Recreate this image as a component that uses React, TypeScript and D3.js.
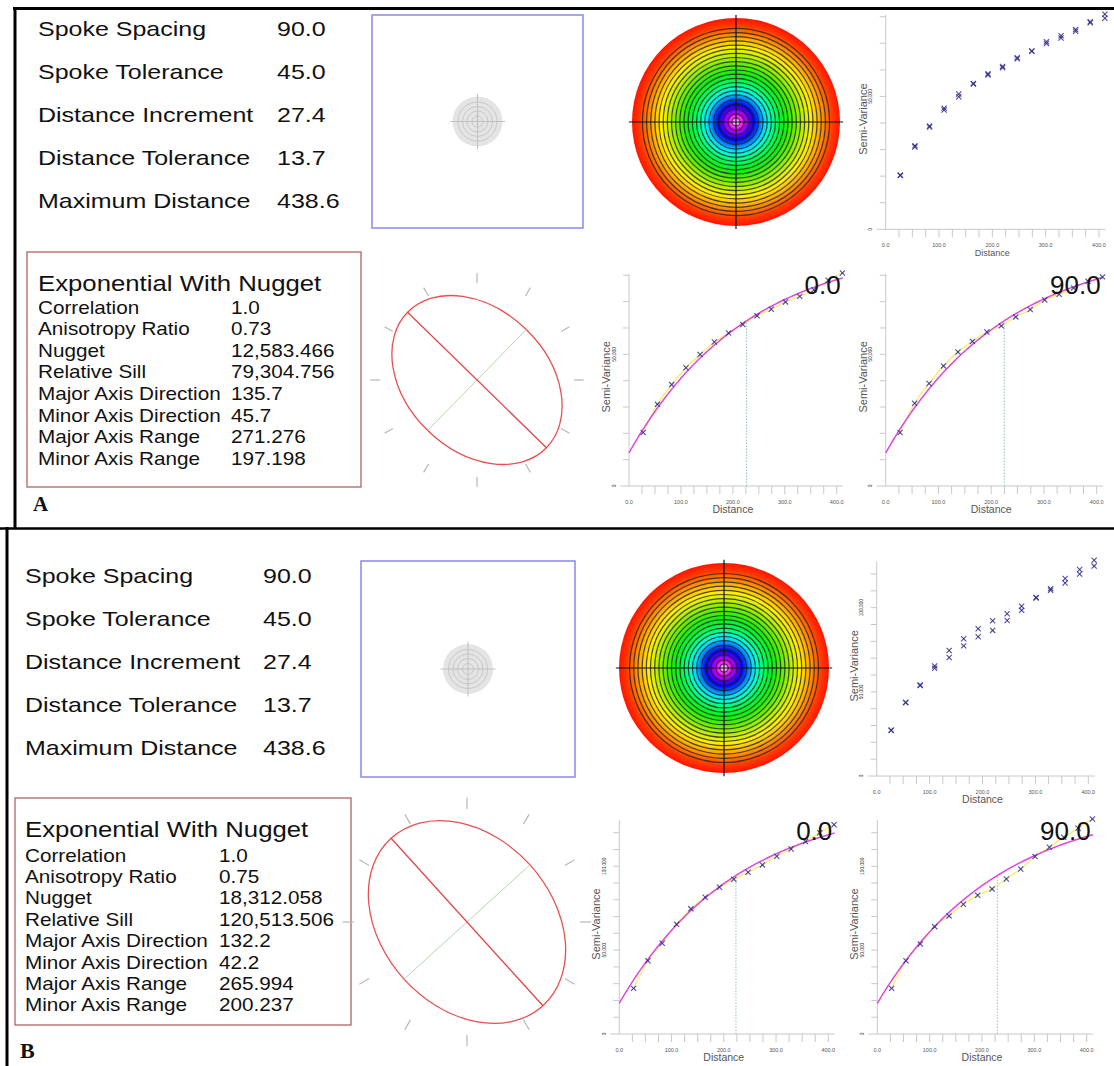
import React from "react";
import * as d3 from "d3";

const FONT = "'Liberation Sans', Arial, Helvetica, sans-serif";
const SERIF = "'Liberation Serif', 'Times New Roman', serif";

// ---------- text data ----------
const headerLabels = ["Spoke Spacing", "Spoke Tolerance", "Distance Increment", "Distance Tolerance", "Maximum Distance"];
const headerValuesA = ["90.0", "45.0", "27.4", "13.7", "438.6"];
const headerValuesB = ["90.0", "45.0", "27.4", "13.7", "438.6"];
const modelTitle = "Exponential With Nugget";
const modelLabels = ["Correlation", "Anisotropy Ratio", "Nugget", "Relative Sill", "Major Axis Direction", "Minor Axis Direction", "Major Axis Range", "Minor Axis Range"];
const modelValuesA = ["1.0", "0.73", "12,583.466", "79,304.756", "135.7", "45.7", "271.276", "197.198"];
const modelValuesB = ["1.0", "0.75", "18,312.058", "120,513.506", "132.2", "42.2", "265.994", "200.237"];

// ---------- variogram data ----------
const lagDistances = [27.4, 54.8, 82.2, 109.6, 137.0, 164.4, 191.8, 219.2, 246.6, 274.0, 301.4, 328.8, 356.2, 383.6, 411.0];
const semiVarA0 = [20300, 31000, 38500, 44900, 49900, 54700, 58100, 61300, 64600, 67100, 69900, 72000, 74500, 78100, 80900];
const semiVarA90 = [20300, 31400, 38900, 45600, 50900, 54900, 58500, 60800, 64200, 67000, 70600, 72800, 75200, 77700, 79400];
const semiVarB0 = [27200, 43700, 54100, 65400, 74600, 81500, 87500, 92200, 96400, 100800, 106000, 110300, 114700, 120000, 124700];
const semiVarB90 = [27200, 43700, 53700, 64000, 70400, 77300, 82700, 86500, 92400, 98400, 105800, 111300, 117300, 122700, 128200];

const modelA = { nugget: 12583.466, sill: 79304.756, majorRange: 271.276, minorRange: 197.198, majorDir: 135.7 };
const modelB = { nugget: 18312.058, sill: 120513.506, majorRange: 265.994, minorRange: 200.237, majorDir: 132.2 };

const xTickLabelValues = [0, 100, 200, 300, 400];
const yTickLabelValuesA = [0, 50000];
const yTickLabelValuesB = [0, 50000, 100000];
const directionTitles = ["0.0", "90.0"];
const directionAngles = [0, 90];

// contour surface colours (fraction of radius -> colour) and contour ring positions
const contourColorStops: [number, string][] = [
  [0, "#fff0ff"], [0.035, "#ff70ff"], [0.07, "#e600f0"], [0.12, "#7000ff"], [0.17, "#0000f0"],
  [0.22, "#0060ff"], [0.27, "#00d8ff"], [0.32, "#00ffc8"], [0.38, "#00ff60"], [0.47, "#10ee10"],
  [0.57, "#70ee00"], [0.65, "#c8f000"], [0.72, "#ffee00"], [0.79, "#ffb800"], [0.86, "#ff7800"],
  [0.93, "#ff3800"], [1, "#ff1400"],
];
const contourRings = [0.04, 0.08, 0.125, 0.17, 0.215, 0.26, 0.3, 0.34, 0.38, 0.42, 0.46, 0.5, 0.54, 0.58, 0.62, 0.66, 0.7, 0.74, 0.78, 0.82, 0.86, 0.9];
const grayRings = [0.22, 0.42, 0.6, 0.78];
const ellipseTickAngles = [0, 30, 60, 90, 120, 150, 180, 210, 240, 270, 300, 330];

type Model = typeof modelA;

function directionalRange(m: Model, dir: number) {
  const t = ((m.majorDir - dir) * Math.PI) / 180;
  return 1 / Math.sqrt((Math.cos(t) / m.majorRange) ** 2 + (Math.sin(t) / m.minorRange) ** 2);
}
function gamma(m: Model, dir: number, h: number) {
  const r = directionalRange(m, dir);
  return m.nugget + m.sill * (1 - Math.exp(-h / r));
}

const SText = ({ x, y, sx = 1, size, weight = "normal", family = FONT, fill = "#111", anchor = "start", children }: any) => (
  <text transform={`translate(${x},${y}) scale(${sx},1)`} fontSize={size} fontFamily={family} fontWeight={weight} fill={fill} textAnchor={anchor}>
    {children}
  </text>
);

function HeaderTable({ x, valX, y0, step, values }: any) {
  return (
    <g>
      {headerLabels.map((l, i) => (
        <g key={l}>
          <SText x={x} y={y0 + i * step} sx={1.19} size={21}>{l}</SText>
          <SText x={valX} y={y0 + i * step} sx={1.19} size={21}>{values[i]}</SText>
        </g>
      ))}
    </g>
  );
}

function ModelBox({ bx, by, bw, bh, tx, titleY, rowY0, rowStep, valX, values }: any) {
  return (
    <g>
      <rect x={bx} y={by} width={bw} height={bh} fill="none" stroke="#b06464" strokeWidth={1.3} />
      <SText x={tx} y={titleY} sx={1.17} size={22}>{modelTitle}</SText>
      {modelLabels.map((l, i) => (
        <g key={l}>
          <SText x={tx} y={rowY0 + i * rowStep} sx={1.15} size={18}>{l}</SText>
          <SText x={valX} y={rowY0 + i * rowStep} sx={1.15} size={18}>{values[i]}</SText>
        </g>
      ))}
    </g>
  );
}

function GraySquare({ x, y, w, h, r }: any) {
  const cx = x + w / 2;
  const cy = y + h / 2;
  return (
    <g>
      <rect x={x} y={y} width={w} height={h} fill="#fff" stroke="#8888ee" strokeWidth={1.5} />
      <circle cx={cx} cy={cy} r={r} fill="#e4e4e4" />
      {grayRings.map((f) => (
        <circle key={f} cx={cx} cy={cy} r={f * r} fill="none" stroke="#c8c8c8" strokeWidth={1} />
      ))}
      <line x1={cx - r * 1.1} x2={cx + r * 1.1} y1={cy} y2={cy} stroke="#c0c0c0" strokeWidth={1} />
      <line x1={cx} x2={cx} y1={cy - r * 1.1} y2={cy + r * 1.1} stroke="#c0c0c0" strokeWidth={1} />
    </g>
  );
}

function ContourDisk({ cx, cy, r, id }: any) {
  const ext = r * 1.03;
  return (
    <g>
      <defs>
        <radialGradient id={id} cx="50%" cy="50%" r="50%">
          {contourColorStops.map(([o, c], i) => (
            <stop key={i} offset={o} stopColor={c} />
          ))}
        </radialGradient>
      </defs>
      <circle cx={cx} cy={cy} r={r} fill={`url(#${id})`} />
      {contourRings.map((f) => (
        <circle key={f} cx={cx} cy={cy} r={f * r} fill="none" stroke="#1e1e1e" strokeWidth={1.2} strokeOpacity={0.8} />
      ))}
      <line x1={cx - ext} x2={cx + ext} y1={cy} y2={cy} stroke="#111" strokeWidth={1.2} />
      <line x1={cx} x2={cx} y1={cy - ext} y2={cy + ext} stroke="#111" strokeWidth={1.2} />
    </g>
  );
}

function EllipsePanel({ cx, cy, model, scale }: any) {
  const a = model.majorRange * scale;
  const b = model.minorRange * scale;
  const th = (model.majorDir * Math.PI) / 180;
  const ux = Math.cos(th), uy = -Math.sin(th);
  const vx = Math.cos(th + Math.PI / 2), vy = -Math.sin(th + Math.PI / 2);
  return (
    <g>
      {ellipseTickAngles.map((ang) => {
        const t = (ang * Math.PI) / 180;
        return (
          <line key={ang} x1={cx + Math.sin(t) * a * 1.0} y1={cy - Math.cos(t) * a * 1.0} x2={cx + Math.sin(t) * a * 1.1} y2={cy - Math.cos(t) * a * 1.1} stroke="#b8b8b8" strokeWidth={1.2} />
        );
      })}
      <ellipse cx={cx} cy={cy} rx={a} ry={b} transform={`rotate(${-model.majorDir},${cx},${cy})`} fill="none" stroke="#e85050" strokeWidth={1.3} />
      <line x1={cx - vx * b} y1={cy - vy * b} x2={cx + vx * b} y2={cy + vy * b} stroke="#b0d8b0" strokeWidth={1} />
      <line x1={cx - ux * a} y1={cy - uy * a} x2={cx + ux * a} y2={cy + uy * a} stroke="#e04848" strokeWidth={1.3} />
    </g>
  );
}

function XMark({ x, y }: any) {
  const s = 2.6;
  return (
    <g stroke="#2e2e8e" strokeWidth={1.1} strokeOpacity={0.85}>
      <line x1={x - s} y1={y - s} x2={x + s} y2={y + s} />
      <line x1={x - s} y1={y + s} x2={x + s} y2={y - s} />
    </g>
  );
}

function VarioChart({ x0, x400, yBase, yTopPx, topVal, axisTop, series, model, dir, title, labelVals, distFont }: any) {
  const x = d3.scaleLinear().domain([0, 400]).range([x0, x400]);
  const y = d3.scaleLinear().domain([0, topVal]).range([yBase, yTopPx]);
  const xTicks = d3.range(25, 401, 25);
  const yTicks = d3.range(10000, topVal + 1, 10000);
  const xEnd = x(412);
  let modelPath: string | null = null;
  let rangeX = 0, rangeY = 0;
  if (model) {
    const hs = d3.range(0, 412.01, 2);
    modelPath = d3.line()(hs.map((h) => [x(h), y(gamma(model, dir, h))] as [number, number]));
    const r = directionalRange(model, dir);
    rangeX = x(r);
    rangeY = y(gamma(model, dir, r));
  }
  const yellowLine = d3.line<number>().x((_, i) => x(lagDistances[i])).y((v) => y(v)).curve(d3.curveMonotoneX);
  return (
    <g>
      <line x1={x0 - 9} x2={xEnd} y1={yBase} y2={yBase} stroke="#c8c8c8" strokeWidth={1} />
      <line x1={x0} x2={x0} y1={axisTop} y2={yBase} stroke="#c8c8c8" strokeWidth={1} />
      {xTicks.map((t) => (
        <line key={t} x1={x(t)} x2={x(t)} y1={yBase} y2={yBase + 8} stroke="#c8c8c8" strokeWidth={1} />
      ))}
      {yTicks.map((t) => (
        <line key={t} x1={x0 - 6} x2={x0} y1={y(t)} y2={y(t)} stroke="#c8c8c8" strokeWidth={1} />
      ))}
      {xTickLabelValues.map((t) => (
        <text key={t} x={x(t)} y={yBase + 18} fontSize={5.5} fontFamily={FONT} fill="#555" textAnchor="middle">
          {t.toFixed(1)}
        </text>
      ))}
      {labelVals.map((t: number) => (
        <text key={t} transform={`translate(${x0 - 15},${y(t)}) rotate(-90)`} fontSize={4.8} fontFamily={FONT} fill="#333" textAnchor="middle" dy="0.35em">
          {d3.format(",")(t)}
        </text>
      ))}
      <text x={(x0 + x400) / 2} y={yBase + 27} fontSize={distFont} fontFamily={FONT} fill="#555" textAnchor="middle">
        Distance
      </text>
      <text transform={`translate(${x0 - 23},${(axisTop + yBase) / 2 - 3}) rotate(-90)`} fontSize={11} fontFamily={FONT} fill="#555" textAnchor="middle" dy="0.35em">
        Semi-Variance
      </text>
      {model && (
        <g>
          <line x1={rangeX} x2={rangeX} y1={yBase} y2={rangeY} stroke="#98c0c8" strokeWidth={1} strokeDasharray="1.5,1.5" />
          <path d={yellowLine(series[0]) || ""} fill="none" stroke="#f4f07a" strokeWidth={1.5} />
          <path d={modelPath || ""} fill="none" stroke="#dd48dd" strokeWidth={1.5} />
        </g>
      )}
      {series.map((s: number[], si: number) => (
        <g key={si}>
          {s.map((v, i) => (
            <XMark key={i} x={x(lagDistances[i])} y={y(v)} />
          ))}
        </g>
      ))}
      {title && (
        <text x={x400 + 4} y={axisTop + 20} fontSize={26} fontFamily={FONT} fill="#111" textAnchor="end">
          {title}
        </text>
      )}
    </g>
  );
}

export default function App() {
  return (
    <svg width={1114} height={1066} viewBox="0 0 1114 1066" style={{ position: "absolute", left: 0, top: 0, background: "#fff" }}>
      <rect x={0} y={0} width={1114} height={1066} fill="#fff" />
      {/* frame */}
      <line x1={13} x2={1114} y1={8.5} y2={8.5} stroke="#000" strokeWidth={3} />
      <line x1={15} x2={15} y1={7} y2={529} stroke="#000" strokeWidth={3} />
      <line x1={0} x2={1114} y1={528.5} y2={528.5} stroke="#000" strokeWidth={2.5} />
      <line x1={7} x2={7} y1={527} y2={1066} stroke="#000" strokeWidth={3} />

      {/* ===== Panel A ===== */}
      <HeaderTable x={38} valX={277} y0={36} step={43} values={headerValuesA} />
      <GraySquare x={372} y={15} w={211} h={213} r={25} />
      <ContourDisk cx={736} cy={122} r={104} id="gradA" />
      <VarioChart x0={885.7} x400={1099} yBase={229.3} yTopPx={16.7} topVal={80000} axisTop={15} series={[semiVarA0, semiVarA90]} labelVals={yTickLabelValuesA} distFont={9} />
      <ModelBox bx={27} by={252} bw={334} bh={235} tx={38} titleY={291} rowY0={313.5} rowStep={21.6} valX={231} values={modelValuesA} />
      <EllipsePanel cx={477} cy={380} model={modelA} scale={0.3576} />
      <VarioChart x0={629} x400={836.7} yBase={486} yTopPx={275.3} topVal={80000} axisTop={273.7} series={[semiVarA0]} model={modelA} dir={directionAngles[0]} title={directionTitles[0]} labelVals={yTickLabelValuesA} distFont={10.5} />
      <VarioChart x0={885.7} x400={1096.7} yBase={486} yTopPx={275.3} topVal={80000} axisTop={273.7} series={[semiVarA90]} model={modelA} dir={directionAngles[1]} title={directionTitles[1]} labelVals={yTickLabelValuesA} distFont={10.5} />
      <SText x={33} y={511} size={21} weight="bold" family={SERIF}>A</SText>

      {/* ===== Panel B ===== */}
      <HeaderTable x={25} valX={263} y0={583} step={43} values={headerValuesB} />
      <GraySquare x={361} y={561} w={214} h={216} r={25} />
      <ContourDisk cx={724} cy={668} r={105} id="gradB" />
      <VarioChart x0={876.7} x400={1088.3} yBase={776} yTopPx={574} topVal={120000} axisTop={561.7} series={[semiVarB0, semiVarB90]} labelVals={yTickLabelValuesB} distFont={10.5} />
      <ModelBox bx={15} by={798} bw={336} bh={227} tx={25} titleY={837} rowY0={861.5} rowStep={21.4} valX={219} values={modelValuesB} />
      <EllipsePanel cx={467} cy={922} model={modelB} scale={0.4248} />
      <VarioChart x0={619.3} x400={828.3} yBase={1034} yTopPx={832.7} topVal={120000} axisTop={820} series={[semiVarB0]} model={modelB} dir={directionAngles[0]} title={directionTitles[0]} labelVals={yTickLabelValuesB} distFont={10.5} />
      <VarioChart x0={877.3} x400={1086.7} yBase={1034} yTopPx={832.7} topVal={120000} axisTop={820} series={[semiVarB90]} model={modelB} dir={directionAngles[1]} title={directionTitles[1]} labelVals={yTickLabelValuesB} distFont={10.5} />
      <SText x={20} y={1058} size={22} weight="bold" family={SERIF}>B</SText>
    </svg>
  );
}
